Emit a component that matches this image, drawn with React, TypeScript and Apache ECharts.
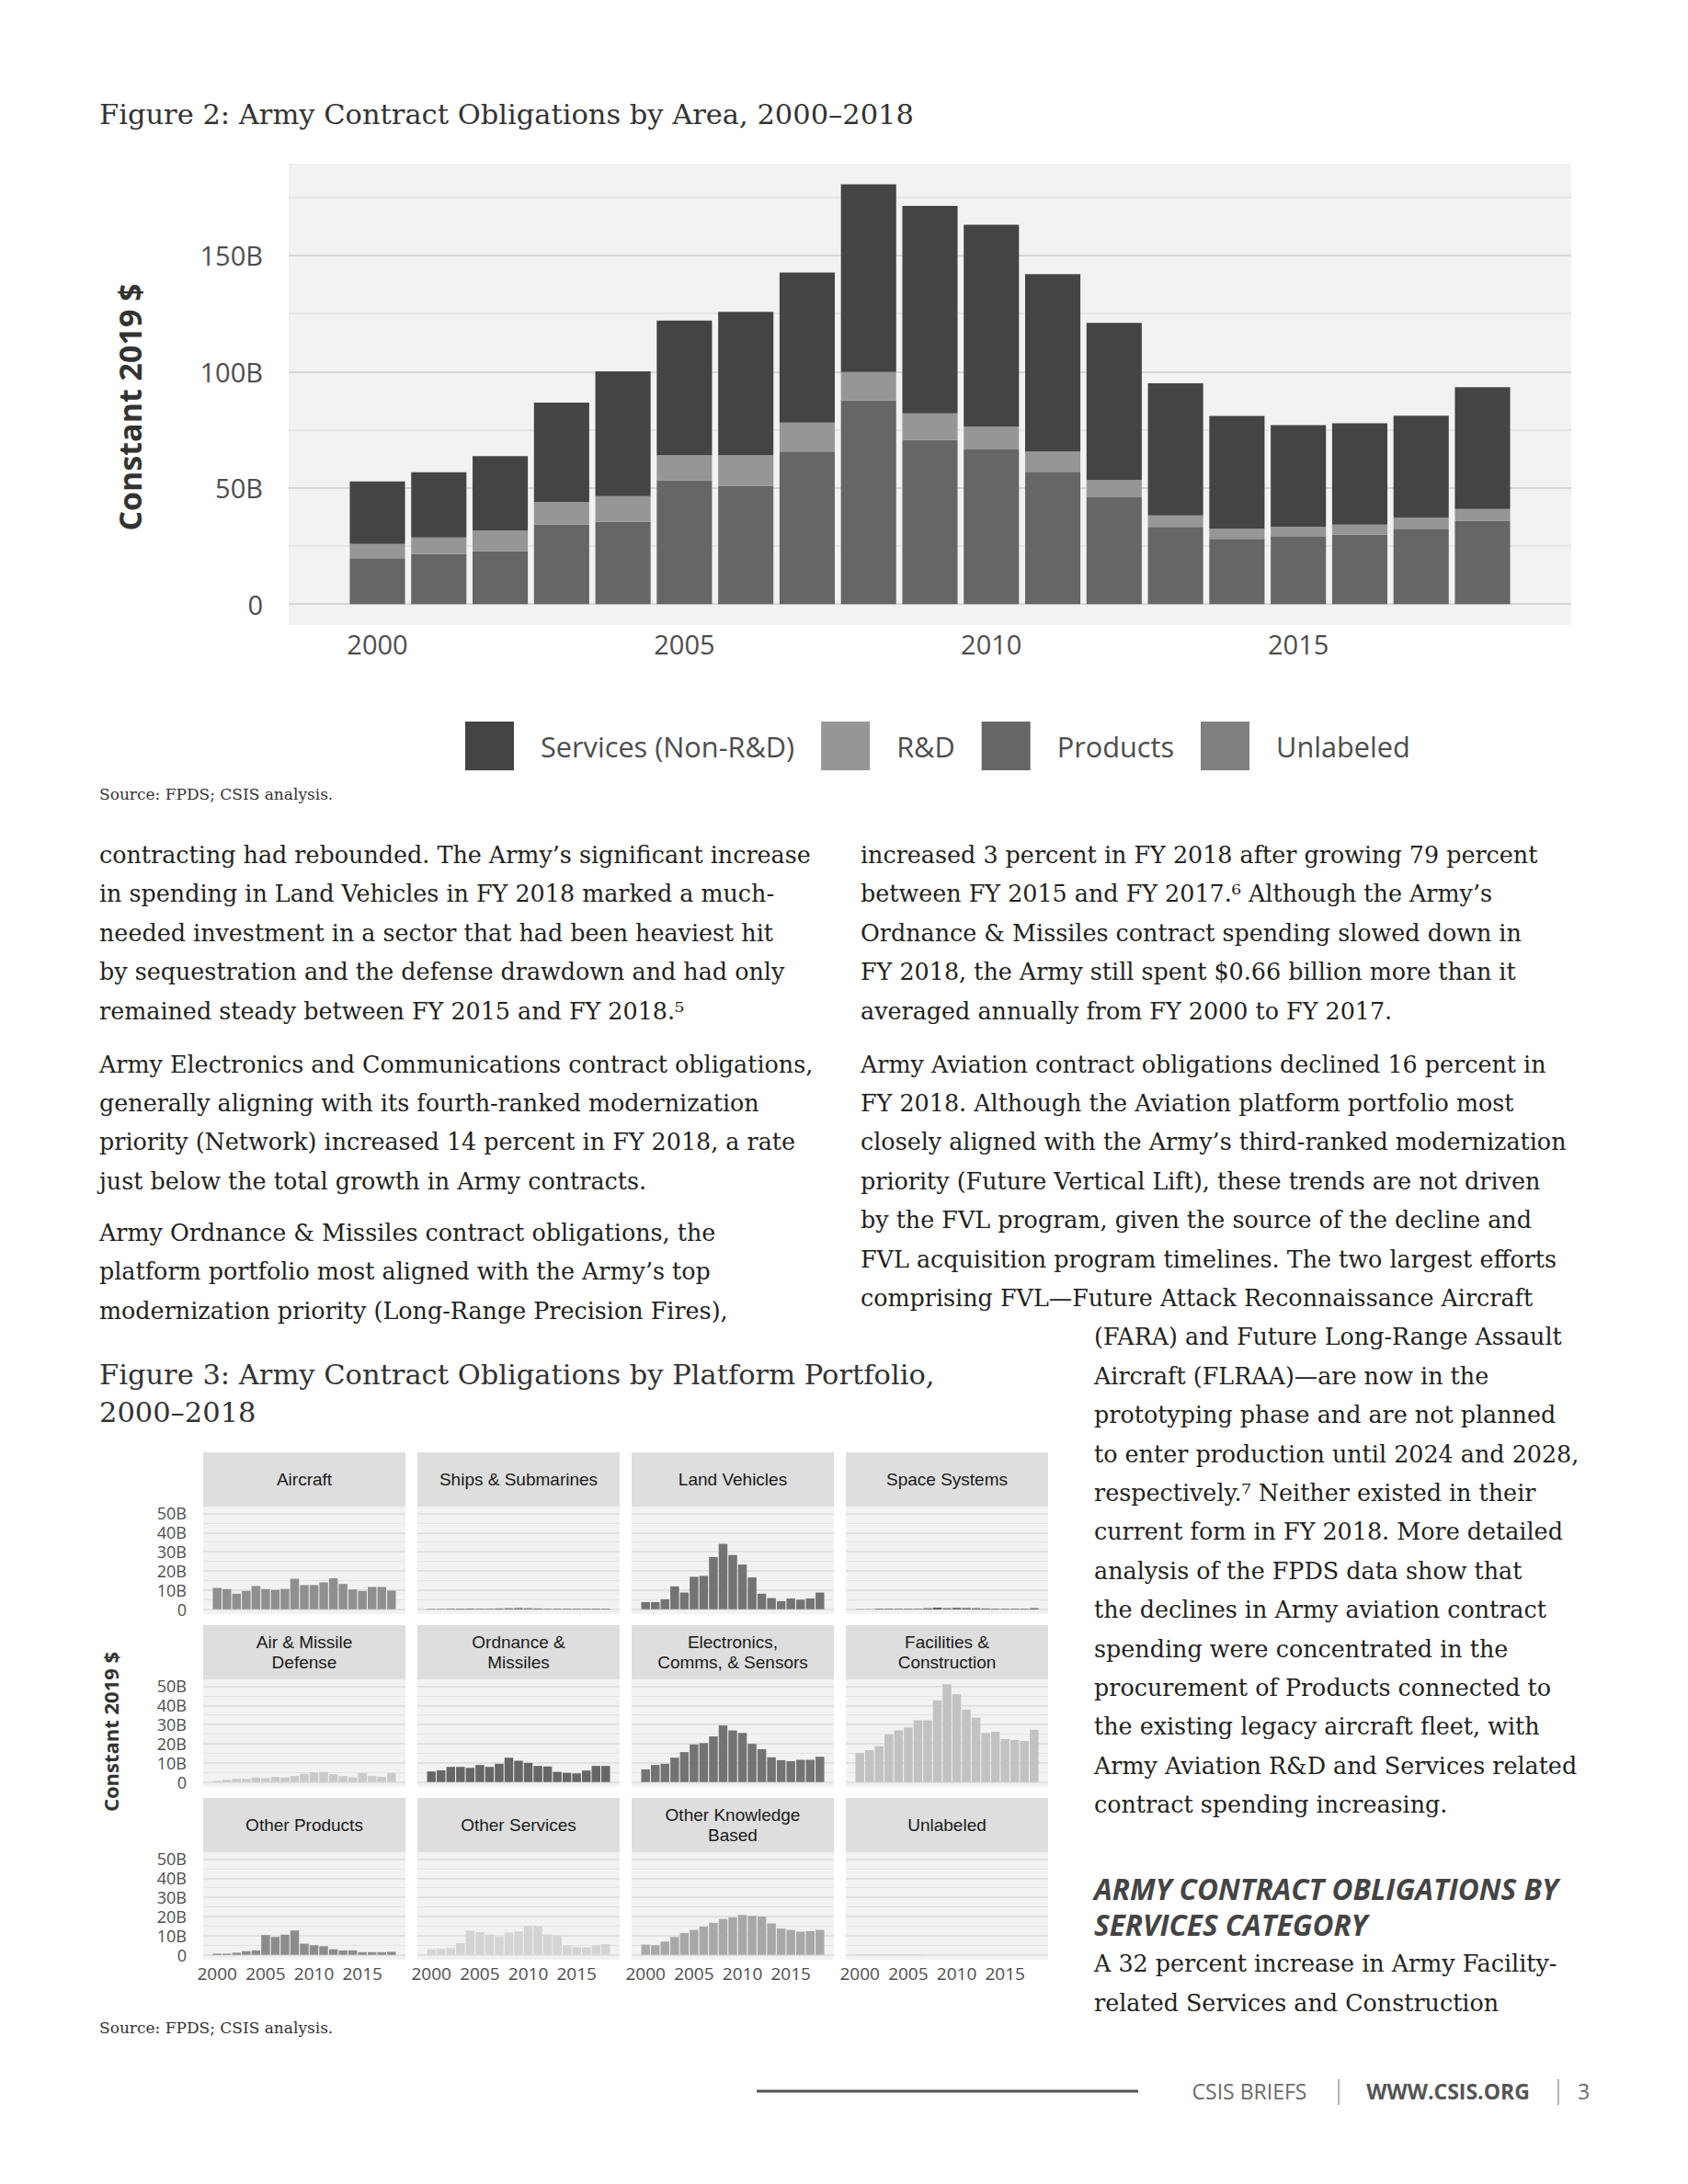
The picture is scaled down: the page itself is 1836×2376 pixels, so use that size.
import React, { useEffect, useRef } from "react";
import * as echarts from "echarts";

// ---------------- DATA ----------------
const years = [2000, 2001, 2002, 2003, 2004, 2005, 2006, 2007, 2008, 2009, 2010, 2011, 2012, 2013, 2014, 2015, 2016, 2017, 2018];
const yearTicks = [2000, 2005, 2010, 2015];

// Figure 2 (billions, constant 2019 $)
const areaNames = ["Services (Non-R&D)", "R&D", "Products", "Unlabeled"];
const servicesB = [26.9, 28.1, 31.9, 42.8, 53.7, 58.0, 61.7, 64.5, 80.8, 89.3, 86.8, 76.3, 67.6, 56.9, 48.5, 43.8, 43.6, 43.9, 52.4];
const rndB = [6.2, 7.1, 8.9, 9.7, 10.9, 10.7, 13.1, 12.5, 12.1, 11.3, 9.9, 8.7, 7.5, 4.9, 4.4, 4.3, 4.4, 4.7, 5.0];
const productsB = [19.7, 21.5, 22.8, 34.2, 35.5, 53.3, 50.9, 65.6, 87.7, 70.7, 66.5, 56.9, 45.9, 33.2, 28.0, 28.9, 29.8, 32.4, 35.9];
const unlabeledB = [0, 0, 0, 0, 0, 0, 0, 0, 0, 0, 0, 0, 0, 0, 0, 0, 0, 0, 0];
const areaYTicks = [0, 50, 100, 150];
const areaGridTicks = [0, 25, 50, 75, 100, 125, 150, 175];

// Figure 3 (billions, constant 2019 $)
const portfolioNames = [
  "Aircraft", "Ships & Submarines", "Land Vehicles", "Space Systems",
  "Air & Missile\nDefense", "Ordnance &\nMissiles", "Electronics,\nComms, & Sensors", "Facilities &\nConstruction",
  "Other Products", "Other Services", "Other Knowledge\nBased", "Unlabeled",
];
const aircraft = [11.1, 10.5, 8.1, 9.5, 12.1, 10.5, 10.1, 10.6, 15.9, 12.6, 12.6, 14.0, 16.1, 13.2, 10.3, 9.5, 11.6, 11.6, 9.7];
const shipsSubs = [0.2, 0.2, 0.3, 0.3, 0.3, 0.3, 0.3, 0.4, 0.5, 0.6, 0.5, 0.4, 0.3, 0.3, 0.3, 0.3, 0.3, 0.3, 0.3];
const landVehicles = [3.7, 3.7, 5.2, 11.9, 8.7, 16.9, 17.4, 27.2, 34.1, 28.3, 23.3, 16.6, 8.1, 5.8, 4.2, 5.6, 5.0, 5.6, 8.7];
const spaceSystems = [0.1, 0.1, 0.3, 0.3, 0.3, 0.3, 0.3, 0.5, 0.8, 0.5, 0.7, 0.6, 0.5, 0.4, 0.3, 0.3, 0.3, 0.3, 0.5];
const airMissileDefense = [0.6, 1.1, 1.6, 1.6, 2.4, 2.1, 2.7, 2.4, 3.1, 4.3, 5.0, 5.2, 4.2, 3.1, 2.4, 4.7, 3.1, 2.7, 4.7];
const ordnanceMissiles = [5.5, 6.1, 7.9, 7.9, 7.4, 8.9, 7.9, 9.5, 12.7, 11.1, 10.0, 8.4, 8.1, 5.3, 4.8, 4.5, 6.0, 8.4, 8.4];
const electronics = [6.6, 8.9, 9.5, 12.7, 15.6, 19.6, 20.3, 23.8, 29.5, 26.9, 25.6, 19.9, 17.1, 12.9, 11.4, 10.9, 11.6, 11.6, 13.2];
const facilities = [15.1, 16.6, 18.7, 24.8, 26.9, 28.5, 32.2, 32.2, 42.7, 51.0, 45.7, 37.8, 33.5, 25.6, 26.2, 22.4, 21.9, 21.4, 27.2];
const otherProducts = [0.6, 0.6, 1.1, 1.9, 2.3, 10.3, 9.3, 10.5, 12.7, 5.8, 5.0, 4.5, 2.9, 2.3, 2.3, 1.4, 1.4, 1.4, 1.6];
const otherServices = [2.9, 3.1, 3.4, 6.1, 12.7, 11.8, 10.6, 9.3, 11.6, 12.1, 15.1, 14.8, 10.6, 10.0, 4.8, 4.0, 4.0, 5.0, 5.6];
const otherKnowledge = [5.3, 5.0, 6.9, 9.3, 11.4, 13.0, 14.7, 16.7, 18.7, 19.5, 20.8, 20.3, 20.0, 16.4, 13.7, 13.0, 12.1, 12.4, 13.0];
const unlabeledPortfolio = [0.1, 0.1, 0.1, 0.1, 0.1, 0.1, 0.1, 0, 0, 0, 0, 0, 0, 0, 0, 0, 0, 0, 0];
const portfolioValues = [
  aircraft, shipsSubs, landVehicles, spaceSystems,
  airMissileDefense, ordnanceMissiles, electronics, facilities,
  otherProducts, otherServices, otherKnowledge, unlabeledPortfolio,
];
const portfolioYTicks = [0, 10, 20, 30, 40, 50];
const portfolioGridTicks = [0, 5, 10, 15, 20, 25, 30, 35, 40, 45, 50];

// ---------------- PAGE TEXT ----------------
const leftParas = [
  [
    "contracting had rebounded. The Army’s significant increase",
    "in spending in Land Vehicles in FY 2018 marked a much-",
    "needed investment in a sector that had been heaviest hit",
    "by sequestration and the defense drawdown and had only",
    "remained steady between FY 2015 and FY 2018.⁵",
  ],
  [
    "Army Electronics and Communications contract obligations,",
    "generally aligning with its fourth-ranked modernization",
    "priority (Network) increased 14 percent in FY 2018, a rate",
    "just below the total growth in Army contracts.",
  ],
  [
    "Army Ordnance & Missiles contract obligations, the",
    "platform portfolio most aligned with the Army’s top",
    "modernization priority (Long-Range Precision Fires),",
  ],
];
const rightPara1 = [
  "increased 3 percent in FY 2018 after growing 79 percent",
  "between FY 2015 and FY 2017.⁶ Although the Army’s",
  "Ordnance & Missiles contract spending slowed down in",
  "FY 2018, the Army still spent $0.66 billion more than it",
  "averaged annually from FY 2000 to FY 2017.",
];
const rightPara2 = [
  "Army Aviation contract obligations declined 16 percent in",
  "FY 2018. Although the Aviation platform portfolio most",
  "closely aligned with the Army’s third-ranked modernization",
  "priority (Future Vertical Lift), these trends are not driven",
  "by the FVL program, given the source of the decline and",
  "FVL acquisition program timelines. The two largest efforts",
  "comprising FVL—Future Attack Reconnaissance Aircraft",
];
const rightPara2b = [
  "(FARA) and Future Long-Range Assault",
  "Aircraft (FLRAA)—are now in the",
  "prototyping phase and are not planned",
  "to enter production until 2024 and 2028,",
  "respectively.⁷ Neither existed in their",
  "current form in FY 2018. More detailed",
  "analysis of the FPDS data show that",
  "the declines in Army aviation contract",
  "spending were concentrated in the",
  "procurement of Products connected to",
  "the existing legacy aircraft fleet, with",
  "Army Aviation R&D and Services related",
  "contract spending increasing.",
];
const headingLines = ["ARMY CONTRACT OBLIGATIONS BY", "SERVICES CATEGORY"];
const rightPara3 = ["A 32 percent increase in Army Facility-", "related Services and Construction"];

// ---------------- STYLE ----------------
const SERIF = "'DejaVu Serif', 'Liberation Serif', serif";
const SANS = "'Open Sans', 'Noto Sans', sans-serif";
const STRIP = "'Liberation Sans', Arial, sans-serif";
const BODY_SIZE = 25.4;
const LINE = 42.4;
const areaColors = ["#444444", "#969696", "#666666", "#808080"];
const facetColors = [
  "#8f8f8f", "#595959", "#737373", "#4d4d4d",
  "#cacaca", "#666666", "#737373", "#c2c2c2",
  "#8c8c8c", "#d4d4d4", "#a8a8a8", "#bdbdbd",
];

function bodyLines(lines: string[], x: number, y0: number) {
  return lines.map((t, i) => ({
    type: "text",
    x,
    y: y0 + i * LINE,
    silent: true,
    style: { text: t, fontSize: BODY_SIZE, fontFamily: SERIF, fill: "#231f20", align: "left", verticalAlign: "middle" },
  }));
}

function gridLineSeries(idx: number, ticks: number[], majorStep: number, majorColor: string, minorColor: string, majorW: number, minorW: number) {
  return {
    type: "line",
    xAxisIndex: idx,
    yAxisIndex: idx,
    data: [],
    silent: true,
    z: 1,
    markLine: {
      z: 1,
      silent: true,
      symbol: ["none", "none"],
      label: { show: false },
      emphasis: { disabled: true },
      data: ticks.map((v) => ({
        yAxis: v,
        lineStyle: { color: v % majorStep === 0 ? majorColor : minorColor, width: v % majorStep === 0 ? majorW : minorW, type: "solid" },
      })),
    },
  };
}

export default function App() {
  const ref = useRef<HTMLDivElement>(null);
  useEffect(() => {
    if (!ref.current) return;
    const chart = echarts.init(ref.current, null, { renderer: "svg" });

    const grids: any[] = [];
    const xAxes: any[] = [];
    const yAxes: any[] = [];
    const series: any[] = [];
    const graphics: any[] = [];

    // ---------- Figure 2 ----------
    const xMin = 1998.555;
    const xMax = 2019.445;
    const panelL = 314;
    const panelW = 1395;
    const pxPerYear = panelW / (xMax - xMin);
    const yMin = -9.03;
    const yMax = 189.5;
    // grid 0: panel (background, labels, gridlines) on a continuous year axis
    grids.push({ left: panelL, top: 178, width: panelW, height: 502, show: true, backgroundColor: "#f2f2f2", borderWidth: 0 });
    xAxes.push({
      type: "value", gridIndex: 0, min: xMin, max: xMax,
      axisLine: { show: false }, axisTick: { show: false }, splitLine: { show: false },
      axisLabel: { customValues: yearTicks, formatter: (v: number) => String(v), fontSize: 29, fontFamily: SANS, color: "#4d4d4d", margin: 6 },
    });
    yAxes.push({
      type: "value", gridIndex: 0, min: yMin, max: yMax,
      axisLine: { show: false }, axisTick: { show: false }, splitLine: { show: false },
      axisLabel: { customValues: areaYTicks, formatter: (v: number) => (v === 0 ? "0" : v + "B"), fontSize: 29, fontFamily: SANS, color: "#4d4d4d", margin: 28 },
    });
    series.push(gridLineSeries(0, areaGridTicks, 50, "#d6d6d6", "#e0e0e0", 2, 1.6));
    // grid 1: stacked bars on a category axis covering the same years
    grids.push({
      left: panelL + (years[0] - 0.5 - xMin) * pxPerYear,
      width: years.length * pxPerYear,
      top: 178, height: 502, show: false,
    });
    xAxes.push({ type: "category", gridIndex: 1, data: years.map(String), show: false });
    yAxes.push({ type: "value", gridIndex: 1, min: yMin, max: yMax, show: false, splitLine: { show: false } });
    const stackOrder = [
      { name: areaNames[3], vals: unlabeledB, color: areaColors[3] },
      { name: areaNames[2], vals: productsB, color: areaColors[2] },
      { name: areaNames[1], vals: rndB, color: areaColors[1] },
      { name: areaNames[0], vals: servicesB, color: areaColors[0] },
    ];
    stackOrder.forEach((s) => {
      series.push({
        type: "bar", name: s.name, stack: "area", xAxisIndex: 1, yAxisIndex: 1, z: 3,
        barWidth: "90%", itemStyle: { color: s.color },
        data: s.vals.slice(),
      });
    });

    // ---------- Figure 3 ----------
    const colX = [221, 454, 687, 920];
    const rowTop = [1580, 1768, 1956];
    const stripH = 59;
    const fW = 220;
    const fH = 117;
    portfolioNames.forEach((name, k) => {
      const r = Math.floor(k / 4);
      const c = k % 4;
      const gi = k + 2;
      grids.push({ left: colX[c], top: rowTop[r] + stripH, width: fW, height: fH, show: true, backgroundColor: "#f2f2f2", borderWidth: 0 });
      xAxes.push({
        type: "value", gridIndex: gi, min: xMin, max: xMax,
        axisLine: { show: false }, axisTick: { show: false }, splitLine: { show: false },
        axisLabel: r === 2
          ? { customValues: yearTicks, formatter: (v: number) => String(v), fontSize: 19, fontFamily: SANS, color: "#4d4d4d", margin: 5 }
          : { show: false },
      });
      yAxes.push({
        type: "value", gridIndex: gi, min: -2.55, max: 53.55,
        axisLine: { show: false }, axisTick: { show: false }, splitLine: { show: false },
        axisLabel: c === 0
          ? { customValues: portfolioYTicks, formatter: (v: number) => (v === 0 ? "0" : v + "B"), fontSize: 18, fontFamily: SANS, color: "#4d4d4d", margin: 18, lineHeight: 18 }
          : { show: false },
      });
      series.push(gridLineSeries(gi, portfolioGridTicks, 10, "#dadada", "#e4e4e4", 1.5, 1.2));
      series.push({
        type: "bar", name: name.replace("\n", " "), xAxisIndex: gi, yAxisIndex: gi, z: 3,
        barWidth: 0.9 * fW / (xMax - xMin), itemStyle: { color: facetColors[k] },
        data: years.map((y, i) => [y, portfolioValues[k][i]]),
      });
      graphics.push({ type: "rect", silent: true, shape: { x: colX[c], y: rowTop[r], width: fW, height: stripH }, style: { fill: "#dedede" } });
      graphics.push({
        type: "text", silent: true, x: colX[c] + fW / 2, y: rowTop[r] + stripH / 2,
        style: { text: name, fontSize: 19, fontFamily: STRIP, fill: "#1a1a1a", align: "center", verticalAlign: "middle", lineHeight: 22 },
      });
    });

    // ---------- Page texts ----------
    graphics.push({ type: "text", silent: true, x: 108, y: 124, style: { text: "Figure 2: Army Contract Obligations by Area, 2000–2018", fontSize: 30.5, fontFamily: SERIF, fill: "#333333", verticalAlign: "middle" } });
    graphics.push({ type: "text", silent: true, x: 141, y: 443, rotation: Math.PI / 2, style: { text: "Constant 2019 $", fontSize: 34, fontWeight: "bold", fontFamily: SANS, fill: "#333333", align: "center", verticalAlign: "middle" } });
    graphics.push({ type: "text", silent: true, x: 108, y: 864, style: { text: "Source: FPDS; CSIS analysis.", fontSize: 17, fontFamily: SERIF, fill: "#333333", verticalAlign: "middle" } });

    graphics.push(...bodyLines(leftParas[0], 108, 930));
    graphics.push(...bodyLines(leftParas[1], 108, 1157.5));
    graphics.push(...bodyLines(leftParas[2], 108, 1341));
    graphics.push(...bodyLines(rightPara1, 936, 930));
    graphics.push(...bodyLines(rightPara2, 936, 1157.5));
    graphics.push(...bodyLines(rightPara2b, 1190, 1454.4));
    headingLines.forEach((t, i) => {
      graphics.push({ type: "text", silent: true, x: 1190, y: 2054 + i * 39.5, style: { text: t, fontSize: 31.5, fontWeight: "bold", fontStyle: "italic", fontFamily: SANS, fill: "#444444", verticalAlign: "middle" } });
    });
    graphics.push(...bodyLines(rightPara3, 1190, 2136.2));

    graphics.push({ type: "text", silent: true, x: 108, y: 1495, style: { text: "Figure 3: Army Contract Obligations by Platform Portfolio,", fontSize: 30.5, fontFamily: SERIF, fill: "#333333", verticalAlign: "middle" } });
    graphics.push({ type: "text", silent: true, x: 108, y: 1536, style: { text: "2000–2018", fontSize: 30.5, fontFamily: SERIF, fill: "#333333", verticalAlign: "middle" } });
    graphics.push({ type: "text", silent: true, x: 120, y: 1884, rotation: Math.PI / 2, style: { text: "Constant 2019 $", fontSize: 22, fontWeight: "bold", fontFamily: SANS, fill: "#333333", align: "center", verticalAlign: "middle" } });
    graphics.push({ type: "text", silent: true, x: 108, y: 2206, style: { text: "Source: FPDS; CSIS analysis.", fontSize: 17, fontFamily: SERIF, fill: "#333333", verticalAlign: "middle" } });

    // footer
    graphics.push({ type: "line", silent: true, shape: { x1: 823, y1: 2275, x2: 1238, y2: 2275 }, style: { stroke: "#555555", lineWidth: 3 } });
    graphics.push({ type: "text", silent: true, x: 1359, y: 2275, style: { text: "CSIS BRIEFS", fontSize: 23, fontFamily: SANS, fill: "#6b6b6b", align: "center", verticalAlign: "middle" } });
    graphics.push({ type: "line", silent: true, shape: { x1: 1456, y1: 2262, x2: 1456, y2: 2290 }, style: { stroke: "#9a9a9a", lineWidth: 1.5 } });
    graphics.push({ type: "text", silent: true, x: 1575, y: 2275, style: { text: "WWW.CSIS.ORG", fontSize: 23, fontWeight: "bold", fontFamily: SANS, fill: "#555555", align: "center", verticalAlign: "middle" } });
    graphics.push({ type: "line", silent: true, shape: { x1: 1695, y1: 2262, x2: 1695, y2: 2290 }, style: { stroke: "#9a9a9a", lineWidth: 1.5 } });
    graphics.push({ type: "text", silent: true, x: 1716, y: 2275, style: { text: "3", fontSize: 23, fontFamily: SANS, fill: "#6b6b6b", verticalAlign: "middle" } });

    chart.setOption({
      animation: false,
      backgroundColor: "#ffffff",
      grid: grids,
      xAxis: xAxes,
      yAxis: yAxes,
      legend: {
        data: areaNames,
        left: 506,
        top: 785,
        padding: 0,
        itemWidth: 53,
        itemHeight: 53,
        itemGap: 29,
        icon: "rect",
        selectedMode: false,
        textStyle: { fontSize: 30.7, fontFamily: SANS, color: "#4d4d4d", padding: [0, 0, 0, 24] },
      },
      series,
      graphic: graphics,
    });
    return () => chart.dispose();
  }, []);
  return (
    <div
      ref={ref}
      style={{ position: "absolute", left: 0, top: 0, width: 1836, height: 2376, background: "#ffffff" }}
    />
  );
}
